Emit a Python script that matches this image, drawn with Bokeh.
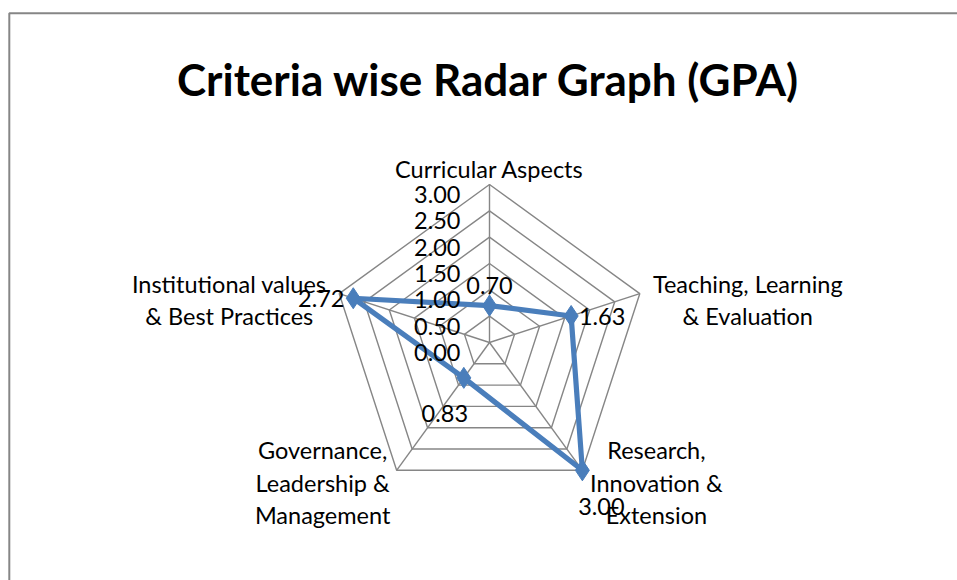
import math
from bokeh.plotting import figure
from bokeh.models import Range1d
from bokeh.core.properties import value
from bokeh.embed import file_html
from bokeh.resources import INLINE

# ---------------- data ----------------
title_text = "Criteria wise Radar Graph (GPA)"
categories = [
    ["Curricular Aspects"],
    ["Teaching, Learning", "& Evaluation"],
    ["Research,", "Innovation &", "Extension"],
    ["Governance,", "Leadership &", "Management"],
    ["Institutional values", "& Best Practices"],
]
gpa = [0.70, 1.63, 3.00, 0.83, 2.72]
gpa_labels = ["0.70", "1.63", "3.00", "0.83", "2.72"]
ticks = [0.0, 0.5, 1.0, 1.5, 2.0, 2.5, 3.0]
tick_labels = ["0.00", "0.50", "1.00", "1.50", "2.00", "2.50", "3.00"]

# ---------------- layout ----------------
W, H = 957, 580
OFF = 0


def px(X, Y):
    # page pixel -> data coords
    return X - OFF, (H + OFF) - Y


CX, CY = px(489, 342)
R = 158.0
VMAX = 3.0
N = len(gpa)
FONT = "Lato"
FS = "23.5px"
GRID = "#868686"
SERIES = "#4A7EBB"


def polar(v, i):
    a = 2 * math.pi * i / N
    return CX + v / VMAX * R * math.sin(a), CY + v / VMAX * R * math.cos(a)


p = figure(width=W, height=H, output_backend="svg", toolbar_location=None,
           x_range=Range1d(0, W), y_range=Range1d(0, H), min_border=0,
           background_fill_color="white", border_fill_color="white")
p.axis.visible = False
p.xgrid.visible = False
p.ygrid.visible = False
p.outline_line_color = None

# chart area border (top and left visible)
bx, by = px(8.8, 12.7)
p.line([bx, bx, W + 20], [-20, by, by], line_color=GRID, line_width=2)

# rings
for t in ticks[1:]:
    pts = [polar(t, i) for i in range(N)] + [polar(t, 0)]
    p.line([q[0] for q in pts], [q[1] for q in pts], line_color=GRID, line_width=1.4)
# spokes
for i in range(N):
    ex, ey = polar(ticks[-1], i)
    p.line([CX, ex], [CY, ey], line_color=GRID, line_width=1.4)

# series
pts = [polar(v, i) for i, v in enumerate(gpa)]
xs = [q[0] for q in pts]
ys = [q[1] for q in pts]
p.line(xs + [xs[0]], ys + [ys[0]], line_color=SERIES, line_width=5.2, line_join="round")
p.scatter(xs, ys, marker="diamond", size=21, fill_color=SERIES, line_color=SERIES)

# tick labels (right aligned left of top spoke)
tx, ty = [], []
for t in ticks:
    vx, vy = polar(t, 0)
    tx.append(vx - 29)
    ty.append(vy - 10)
p.text(tx, ty, text=tick_labels, text_font=value(FONT), text_font_size=FS,
       text_align="right", text_baseline="alphabetic", text_color="black")

# category labels
cat_off = [(0, -16), (108, -10), (74, -20), (-74, -20), (-110, -10)]
LSTEP = 32.5
lx, ly, lt = [], [], []
for i, lines in enumerate(categories):
    vx, vy = polar(VMAX, i)
    dx, dy = cat_off[i]
    for k, s in enumerate(lines):
        lx.append(vx + dx)
        ly.append(vy - dy - k * LSTEP)
        lt.append(s)
p.text(lx, ly, text=lt, text_font=value(FONT), text_font_size=FS,
       text_align="center", text_baseline="alphabetic", text_color="black")

# data labels
lab_off = [(0, -20), (31, 1), (19, 36), (-19, 36), (-32, 0)]
dlx = [xs[i] + lab_off[i][0] for i in range(N)]
dly = [ys[i] - lab_off[i][1] for i in range(N)]
p.text(dlx, dly, text=gpa_labels, text_font=value(FONT), text_font_size=FS,
       text_align="center", text_baseline="alphabetic", text_color="black")

# title
tX, tY = px(488, 78)
p.text([tX], [tY], text=[title_text], text_font=value(FONT), text_font_size="44px",
       text_font_style="bold", text_align="center", text_baseline="alphabetic",
       text_color="black")

open("out.html", "w").write(file_html(p, INLINE))
